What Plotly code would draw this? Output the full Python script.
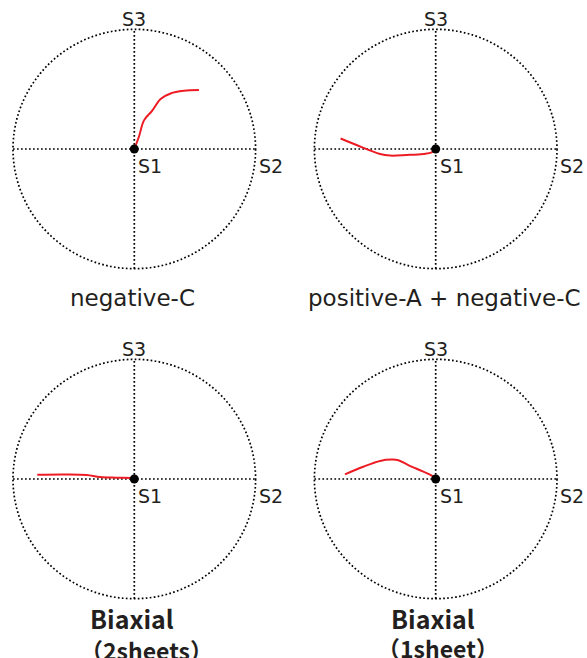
import plotly.graph_objects as go

# ---- data (Stokes-parameter trajectories, normalised units) ----
panel_titles = ["negative-C", "positive-A + negative-C", "<b>Biaxial</b>", "<b>Biaxial</b>"]
panel_subtitles = ["", "", "（2sheets）", "（1sheet）"]
axis_labels = ["S1", "S2", "S3"]

p1_s2 = [0, 0.038, 0.080, 0.148, 0.217, 0.299, 0.409, 0.533]
p1_s3 = [0, 0.102, 0.239, 0.321, 0.418, 0.464, 0.486, 0.492]

p2_s2 = [-0.784, -0.652, -0.459, -0.377, -0.239, -0.102, -0.033, 0]
p2_s3 = [0.088, 0.033, -0.041, -0.055, -0.050, -0.041, -0.028, 0]

p3_s2 = [-0.80, -0.558, -0.393, -0.283, -0.146, -0.022, 0]
p3_s3 = [0.036, 0.038, 0.033, 0.016, 0.011, 0.008, 0]

p4_s2 = [-0.748, -0.597, -0.459, -0.363, -0.308, -0.226, -0.102, -0.033, 0]
p4_s3 = [0.039, 0.102, 0.151, 0.162, 0.157, 0.116, 0.061, 0.028, 0]

curves = [(p1_s2, p1_s3), (p2_s2, p2_s3), (p3_s2, p3_s3), (p4_s2, p4_s3)]

# ---- layout geometry ----
W, H = 587, 658
centers = [(134.3, 149.0), (435.7, 149.0), (134.3, 479.0), (435.7, 479.0)]
RX, RY = 121.3, 119.7
A = 1.1
TEXT = "#231f20"
RED = "#ed1c24"
DOT = "1.7px,2.3px"

title_pos = [(132.5, 298), (444, 298), (131.5, 618), (433, 618)]
sub_pos = [None, None, (146.5, 650), (438, 648)]

fig = go.Figure()
layout = dict(width=W, height=H, margin=dict(l=0, r=0, t=0, b=0),
              paper_bgcolor="white", plot_bgcolor="white", showlegend=False)
shapes, annotations = [], []

for i, ((cx, cy), (s2, s3)) in enumerate(zip(centers, curves)):
    k = "" if i == 0 else str(i + 1)
    xa, ya = "x" + k, "y" + k
    ax_common = dict(range=[-A, A], showgrid=False, zeroline=False, showticklabels=False,
                     showline=False, ticks="", fixedrange=True)
    layout["xaxis" + k] = dict(ax_common, domain=[(cx - A * RX) / W, (cx + A * RX) / W], anchor=ya)
    layout["yaxis" + k] = dict(ax_common, domain=[1 - (cy + A * RY) / H, 1 - (cy - A * RY) / H], anchor=xa)

    ln = dict(color="black", width=1.7, dash=DOT)
    shapes.append(dict(type="circle", xref=xa, yref=ya, x0=-1, x1=1, y0=-1, y1=1, line=ln, layer="below"))
    shapes.append(dict(type="line", xref=xa, yref=ya, x0=-1, x1=1, y0=0, y1=0, line=ln, layer="below"))
    shapes.append(dict(type="line", xref=xa, yref=ya, x0=0, x1=0, y0=-1, y1=1, line=ln, layer="below"))

    fig.add_trace(go.Scatter(x=s2, y=s3, mode="lines", line=dict(color=RED, width=2, shape="spline"),
                             xaxis=xa, yaxis=ya, hoverinfo="skip"))
    fig.add_trace(go.Scatter(x=[0], y=[0], mode="markers", marker=dict(color="black", size=9),
                             xaxis=xa, yaxis=ya, hoverinfo="skip"))

    lf = dict(family="DejaVu Sans", size=19, color=TEXT)
    annotations.append(dict(text=axis_labels[2], xref=xa, yref=ya, x=0, y=1, yshift=10,
                            showarrow=False, font=lf, xanchor="center", yanchor="middle"))
    annotations.append(dict(text=axis_labels[0], xref=xa, yref=ya, x=0, y=0, xshift=16, yshift=-17,
                            showarrow=False, font=lf, xanchor="center", yanchor="middle"))
    annotations.append(dict(text=axis_labels[1], xref=xa, yref=ya, x=1, y=0, xshift=15, yshift=-17,
                            showarrow=False, font=lf, xanchor="center", yanchor="middle"))

    tx, ty = title_pos[i]
    if i < 2:
        tf = dict(family="DejaVu Sans", size=23, color=TEXT)
    else:
        tf = dict(family="Noto Sans CJK JP", size=25, color=TEXT)
    annotations.append(dict(text=panel_titles[i], xref="paper", yref="paper", x=tx / W, y=1 - ty / H,
                            showarrow=False, font=tf, xanchor="center", yanchor="middle"))
    if sub_pos[i]:
        sx, sy = sub_pos[i]
        annotations.append(dict(text="<b>" + panel_subtitles[i] + "</b>", xref="paper", yref="paper",
                                x=sx / W, y=1 - sy / H, showarrow=False,
                                font=dict(family="Noto Sans CJK JP", size=23, color=TEXT),
                                xanchor="center", yanchor="middle"))

layout["shapes"] = shapes
layout["annotations"] = annotations
fig.update_layout(**layout)
fig.write_html("out.html", config={"displayModeBar": False},
               post_script="document.body.style.margin='0px';document.body.style.overflow='hidden';")
